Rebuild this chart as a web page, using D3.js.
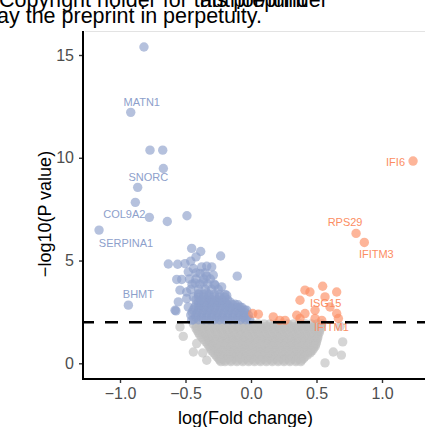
<!DOCTYPE html>
<html>
<head>
<meta charset="utf-8">
<script src="https://cdn.jsdelivr.net/npm/d3@7"></script>
<style>
  html, body { margin: 0; padding: 0; background: #fff; }
  svg { display: block; }
  text { font-family: "Liberation Sans", Arial, Helvetica, sans-serif; }
</style>
</head>
<body>
<svg id="chart" width="425" height="427"></svg>
<script>
// ---- data: log fold change vs -log10(P) ----
const xTicks = [-1.0, -0.5, 0.0, 0.5, 1.0];
const yTicks = [0, 5, 10, 15];
const pThreshold = 2; // -log10(0.01)

// significantly down-regulated genes [logFC, -log10 P]
const downGenes = [
  [-0.817, 15.39], [-0.918, 12.21], [-0.771, 10.37], [-0.674, 10.37], [-0.669, 9.48],
  [-0.865, 8.56], [-0.883, 7.83], [-0.776, 7.10], [-0.639, 6.90], [-0.489, 7.18],
  [-1.160, 6.48], [-0.936, 2.83],
  [-0.453, 5.59], [-0.384, 5.44], [-0.420, 5.18], [-0.232, 5.22],
  [-0.631, 4.83], [-0.560, 4.82], [-0.504, 4.85], [-0.460, 4.97],
  [-0.440, 4.61], [-0.376, 4.69], [-0.338, 4.72], [-0.300, 4.69],
  [-0.479, 4.45], [-0.105, 4.24], [-0.567, 4.08], [-0.529, 4.08],
  [-0.389, 4.37], [-0.338, 4.24], [-0.288, 4.29],
  [-0.427, 3.91], [-0.364, 3.96], [-0.275, 3.80], [-0.224, 3.72],
  [-0.542, 3.56], [-0.491, 3.47], [-0.402, 3.39], [-0.338, 3.42], [-0.186, 3.31],
  [-0.555, 2.99], [-0.491, 3.15], [-0.440, 3.23], [-0.580, 2.58],
  [-0.479, 2.74], [-0.402, 2.83], [-0.313, 2.90], [-0.250, 2.99], [-0.186, 2.90], [-0.122, 2.87],
  [-0.453, 2.10], [-0.084, 2.74], [-0.033, 2.58], [-0.573, 2.55]
];
// the dense lower part of the down-regulated group, one row per -log10 P level
const downRows = [
  [2.12, [-0.44, -0.40, -0.36, -0.32, -0.28, -0.24, -0.20, -0.16, -0.12, -0.08, -0.04, -0.01]],
  [2.23, [-0.42, -0.38, -0.34, -0.30, -0.26, -0.22, -0.18, -0.14, -0.10, -0.06, -0.03]],
  [2.35, [-0.46, -0.42, -0.38, -0.34, -0.30, -0.26, -0.22, -0.18, -0.14, -0.10, -0.06, -0.02]],
  [2.48, [-0.45, -0.41, -0.37, -0.33, -0.29, -0.25, -0.21, -0.17, -0.13, -0.09, -0.05]],
  [2.60, [-0.44, -0.40, -0.36, -0.32, -0.28, -0.24, -0.20, -0.16, -0.12, -0.08, -0.05]],
  [2.72, [-0.43, -0.39, -0.35, -0.31, -0.27, -0.23, -0.19, -0.15, -0.11, -0.07]],
  [2.85, [-0.42, -0.38, -0.34, -0.30, -0.26, -0.22, -0.18, -0.14, -0.10]],
  [2.98, [-0.40, -0.36, -0.32, -0.28, -0.24, -0.20, -0.16]],
  [3.10, [-0.42, -0.38, -0.34, -0.30, -0.26, -0.22, -0.18]],
  [3.22, [-0.40, -0.36, -0.32, -0.28, -0.24, -0.20]],
  [3.35, [-0.40, -0.36, -0.32, -0.28, -0.24, -0.20]],
  [3.60, [-0.46, -0.40, -0.35, -0.30, -0.25]],
  [3.85, [-0.45, -0.39, -0.33, -0.28]],
  [4.10, [-0.47, -0.42, -0.36, -0.31]],
  [4.40, [-0.42, -0.35]]
];

// significantly up-regulated genes
const upGenes = [
  [1.237, 9.84], [0.802, 6.32], [0.865, 5.88],
  [0.412, 3.56], [0.450, 3.47], [0.547, 3.75], [0.654, 3.47],
  [0.374, 3.07], [0.565, 3.23], [0.603, 2.74], [0.489, 2.58],
  [0.056, 2.39], [0.170, 2.26], [0.260, 2.09], [0.349, 2.34], [0.374, 2.18],
  [0.412, 2.42], [0.489, 2.18], [0.540, 2.09], [0.654, 2.42], [0.667, 2.18],
  [0.013, 2.42], [0.220, 2.09]
];

// genes below the significance threshold
const nsGenes = [
  [-0.542, 1.77], [-0.517, 1.31], [-0.415, 0.96], [-0.440, 0.55], [-0.369, 0.50],
  [-0.338, 0.15], [0.700, 1.04], [0.628, 0.55], [0.565, 0.02], [0.680, 1.80], [0.690, 0.40]
];
const nsRows = [
  [1.92, [-0.44, -0.395, -0.35, -0.305, -0.26, -0.215, -0.17, -0.125, -0.08, -0.035, 0.01, 0.055, 0.10, 0.145, 0.19, 0.235, 0.28, 0.325, 0.37, 0.415, 0.46, 0.505, 0.54]],
  [1.81, [-0.418, -0.373, -0.328, -0.283, -0.238, -0.193, -0.148, -0.103, -0.058, -0.013, 0.032, 0.077, 0.122, 0.167, 0.212, 0.257, 0.302, 0.347, 0.392, 0.437, 0.482, 0.527]],
  [1.70, [-0.42, -0.373, -0.328, -0.283, -0.238, -0.193, -0.148, -0.103, -0.058, -0.013, 0.032, 0.077, 0.122, 0.167, 0.212, 0.257, 0.302, 0.347, 0.392, 0.437, 0.482, 0.53]],
  [1.59, [-0.41, -0.365, -0.32, -0.275, -0.23, -0.185, -0.14, -0.095, -0.05, -0.005, 0.04, 0.085, 0.13, 0.175, 0.22, 0.265, 0.31, 0.355, 0.40, 0.445, 0.49, 0.525]],
  [1.48, [-0.40, -0.355, -0.31, -0.265, -0.22, -0.175, -0.13, -0.085, -0.04, 0.005, 0.05, 0.095, 0.14, 0.185, 0.23, 0.275, 0.32, 0.365, 0.41, 0.455, 0.50, 0.52]],
  [1.37, [-0.39, -0.345, -0.30, -0.255, -0.21, -0.165, -0.12, -0.075, -0.03, 0.015, 0.06, 0.105, 0.15, 0.195, 0.24, 0.285, 0.33, 0.375, 0.42, 0.465, 0.51]],
  [1.26, [-0.375, -0.333, -0.288, -0.243, -0.198, -0.153, -0.108, -0.063, -0.018, 0.027, 0.072, 0.117, 0.162, 0.207, 0.252, 0.297, 0.342, 0.387, 0.432, 0.477, 0.51]],
  [1.15, [-0.36, -0.32, -0.275, -0.23, -0.185, -0.14, -0.095, -0.05, -0.005, 0.04, 0.085, 0.13, 0.175, 0.22, 0.265, 0.31, 0.355, 0.40, 0.445, 0.49, 0.505]],
  [1.04, [-0.345, -0.31, -0.265, -0.22, -0.175, -0.13, -0.085, -0.04, 0.005, 0.05, 0.095, 0.14, 0.185, 0.23, 0.275, 0.32, 0.365, 0.41, 0.455, 0.50]],
  [0.93, [-0.33, -0.287, -0.242, -0.197, -0.152, -0.107, -0.062, -0.017, 0.028, 0.073, 0.118, 0.163, 0.208, 0.253, 0.298, 0.343, 0.388, 0.433, 0.478, 0.495]],
  [0.82, [-0.32, -0.288, -0.243, -0.198, -0.153, -0.108, -0.063, -0.018, 0.027, 0.072, 0.117, 0.162, 0.207, 0.252, 0.297, 0.342, 0.387, 0.432, 0.477, 0.49]],
  [0.71, [-0.31, -0.265, -0.22, -0.175, -0.13, -0.085, -0.04, 0.005, 0.05, 0.095, 0.14, 0.185, 0.23, 0.275, 0.32, 0.365, 0.41, 0.455, 0.478]],
  [0.60, [-0.30, -0.265, -0.22, -0.175, -0.13, -0.085, -0.04, 0.005, 0.05, 0.095, 0.14, 0.185, 0.23, 0.275, 0.32, 0.365, 0.41, 0.455, 0.466]],
  [0.50, [-0.285, -0.243, -0.198, -0.153, -0.108, -0.063, -0.018, 0.027, 0.072, 0.117, 0.162, 0.207, 0.252, 0.297, 0.342, 0.387, 0.432, 0.452]],
  [0.40, [-0.27, -0.243, -0.198, -0.153, -0.108, -0.063, -0.018, 0.027, 0.072, 0.117, 0.162, 0.207, 0.252, 0.297, 0.342, 0.387, 0.43]],
  [0.31, [-0.258, -0.22, -0.175, -0.13, -0.085, -0.04, 0.005, 0.05, 0.095, 0.14, 0.185, 0.23, 0.275, 0.32, 0.365, 0.41]],
  [0.22, [-0.245, -0.22, -0.175, -0.13, -0.085, -0.04, 0.005, 0.05, 0.095, 0.14, 0.185, 0.23, 0.275, 0.32, 0.365, 0.40]],
  [0.15, [-0.238, -0.198, -0.153, -0.108, -0.063, -0.018, 0.027, 0.072, 0.117, 0.162, 0.207, 0.252, 0.297, 0.342, 0.385]],
  [0.08, [-0.23, -0.198, -0.153, -0.108, -0.063, -0.018, 0.027, 0.072, 0.117, 0.162, 0.207, 0.252, 0.297, 0.342, 0.38]]
];

// labelled genes
const labelNames = ["MATN1", "SNORC", "COL9A2", "SERPINA1", "BHMT", "IFI6", "RPS29", "IFITM3", "ISG15", "IFITM1"];
const labelFC    = [-0.918, -0.669, -0.883, -1.160, -0.936, 1.237, 0.802, 0.865, 0.547, 0.667];
const labelP     = [12.21, 9.48, 7.83, 6.48, 2.83, 9.84, 6.32, 5.88, 3.75, 2.18];

// ---- layout ----
const panel = { left: 83, top: 31, right: 425, bottom: 379 };
// label nudges (pixels, from the point to the text baseline centre)
const labelNudge = [[11, -6], [-15, 13], [-11, 16], [27, 16.5], [10, -7], [-17.5, 4.5], [-11, -7], [12, 16], [3, 21], [-7, 13]];

const colDown = "#8DA0CB", colUp = "#FC8D62", colNS = "#BEBEBE";
const ptR = 4.7, ptAlpha = 0.65;

const svg = d3.select("#chart");
const x = d3.scaleLinear().domain([-1, 1]).range([120, 382]);
const y = d3.scaleLinear().domain([0, 15]).range([363.3, 55]);

// watermark text across the top
const wm = svg.append("g").attr("fill", "#000").style("font-size", "21.5px");
wm.append("text").attr("x", -1).attr("y", 7).text("Copyright holder for this preprint");
wm.append("text").attr("x", 200).attr("y", 7).text("author/funder");
wm.append("text").attr("x", -3).attr("y", 23).text("ay the preprint in perpetuity.");

// thin rule along the top of the panel
svg.append("line")
  .attr("x1", panel.left + 2).attr("x2", panel.right)
  .attr("y1", panel.top + 0.5).attr("y2", panel.top + 0.5)
  .attr("stroke", "#e3e3e3").attr("stroke-width", 1);

// points
const ns = nsRows.flatMap(([p, fcs]) => fcs.map(fc => [fc, p])).concat(nsGenes);
const down = downGenes.concat(downRows.flatMap(([p, fcs]) => fcs.map(fc => [fc, p])));
const plot = svg.append("g");
function drawPoints(data, col) {
  plot.append("g").selectAll("circle").data(data).join("circle")
    .attr("cx", d => x(d[0])).attr("cy", d => y(d[1]))
    .attr("r", ptR).attr("fill", col).attr("fill-opacity", ptAlpha);
}
drawPoints(ns, colNS);
drawPoints(down, colDown);
drawPoints(upGenes, colUp);

// gene labels
svg.append("g").style("font-size", "11px").attr("text-anchor", "middle")
  .selectAll("text").data(labelNames).join("text")
  .attr("x", (d, i) => x(labelFC[i]) + labelNudge[i][0])
  .attr("y", (d, i) => y(labelP[i]) + labelNudge[i][1])
  .attr("fill", (d, i) => labelFC[i] < 0 ? colDown : colUp)
  .text(d => d);

// significance threshold
svg.append("line")
  .attr("x1", panel.left).attr("x2", panel.right)
  .attr("y1", y(pThreshold)).attr("y2", y(pThreshold))
  .attr("stroke", "#000").attr("stroke-width", 2.6)
  .attr("stroke-dasharray", "13,11").attr("stroke-dashoffset", 2);

// axes
const fmt = d3.format(".1f");
const xAxis = svg.append("g").attr("transform", `translate(0,${panel.bottom})`)
  .call(d3.axisBottom(x).tickValues(xTicks).tickFormat(fmt).tickSize(4).tickPadding(5).tickSizeOuter(0));
const yAxis = svg.append("g").attr("transform", `translate(${panel.left},0)`)
  .call(d3.axisLeft(y).tickValues(yTicks).tickFormat(d3.format("d")).tickSize(4).tickPadding(5).tickSizeOuter(0));
[xAxis, yAxis].forEach(a => {
  a.select(".domain").remove();
  a.selectAll(".tick line").attr("stroke", "#333").attr("stroke-width", 1.4);
  a.selectAll(".tick text").attr("fill", "#4D4D4D")
    .style("font-size", "16px").style("font-family", "'Liberation Sans', Arial, sans-serif");
});
svg.append("line").attr("x1", panel.left).attr("x2", panel.right)
  .attr("y1", panel.bottom).attr("y2", panel.bottom).attr("stroke", "#000").attr("stroke-width", 2);
svg.append("line").attr("x1", panel.left).attr("x2", panel.left)
  .attr("y1", panel.top).attr("y2", panel.bottom + 1).attr("stroke", "#000").attr("stroke-width", 2);

// axis titles
svg.append("text").attr("x", 245.5).attr("y", 424).attr("text-anchor", "middle")
  .style("font-size", "18px").attr("fill", "#000").text("log(Fold change)");
svg.append("text").attr("transform", "translate(51,214) rotate(-90)").attr("text-anchor", "middle")
  .style("font-size", "18px").attr("fill", "#000").text("\u2212log10(P value)");
</script>
</body>
</html>
